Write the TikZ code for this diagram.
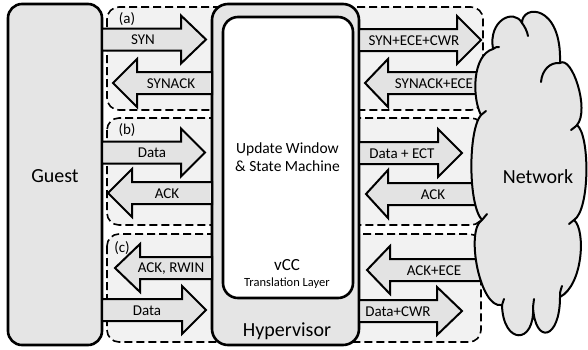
\documentclass[tikz,border=0pt]{standalone}
\usepackage{fontspec}
\setmainfont{Carlito}
\tikzset{
  box/.style={draw, line width=2.6pt, fill=gray!20, rounded corners=14pt, inner sep=0},
  inbox/.style={draw, line width=2.6pt, fill=white, rounded corners=15pt, inner sep=0},
  grp/.style={draw, dash pattern=on 8pt off 4pt, line width=1.6pt, fill=gray!10, rounded corners=12pt},
  arr/.style={draw, line width=2pt, fill=gray!22, line join=miter},
  lbl/.style={font=\fontsize{15}{18}\selectfont, inner sep=0},
  big/.style={font=\fontsize{20}{24}\selectfont, inner sep=0},
  cloudst/.style={draw, line width=2pt, fill=gray!20, line join=round},
  tick/.style={draw, line width=2pt, line cap=round},
}
% #1 tail x, #2 head base x, #3 tip x, #4 y, #5 label x, #6 name, #7 label
\newcommand{\blockarr}[7]{%
  \draw[arr] (#1,#4-11) -- (#2,#4-11) -- (#2,#4-24) -- (#3,#4) -- (#2,#4+24) -- (#2,#4+11) -- (#1,#4+11) -- cycle;
  \node[lbl] (#6) at (#5,#4+0.5) {#7};
}
\begin{document}
\begin{tikzpicture}[x=1pt,y=-1pt]
\useasboundingbox (0,0) rectangle (588,349);
% dashed groups
\draw[grp] (107,7) rectangle (483,110);
\draw[grp] (107,118) rectangle (483,225);
\draw[grp] (107,234) rectangle (481,342);
% guest
\node[box, minimum width=94pt, minimum height=341pt] (guest) at (55,174.5) {};
\node[big] (guestlbl) at (55,176) {Guest};
% hypervisor
\node[box, rounded corners=16pt, minimum width=147pt, minimum height=341pt] (hyp) at (285.5,174.5) {};
\node[inbox, minimum width=130pt, minimum height=281pt] (vcc) at (288,157.5) {};
\node[big] (hyplbl) at (287,331) {Hypervisor};
\node[font=\fontsize{15.5}{19}\selectfont, inner sep=0, align=center] (uw) at (287.5,157) {Update Window\\[-1pt]\& State Machine};
\node[font=\fontsize{17}{20}\selectfont, inner sep=0] (vcclbl) at (287,265) {vCC};
\node[font=\fontsize{12.5}{15}\selectfont, inner sep=0] (tl) at (287,283) {Translation Layer};
% group labels
\node[lbl] (la) at (127,19) {(a)};
\node[lbl] (lb) at (127,130) {(b)};
\node[lbl] (lc) at (122,248) {(c)};
% left arrows
\blockarr{102}{181}{206}{39.5}{143}{a1}{SYN}
\blockarr{212}{137}{113}{83}{171}{a2}{SYNACK}
\blockarr{102}{181}{205}{152.5}{152}{a3}{Data}
\blockarr{212}{132}{108}{193}{167}{a4}{ACK}
\blockarr{212}{140}{115}{268}{171}{a5}{ACK, RWIN}
\blockarr{102}{182}{206}{310}{147}{a6}{Data}
% right arrows
\blockarr{359}{457}{481}{40}{414}{a7}{SYN+ECE+CWR}
\blockarr{484}{388}{365}{83}{434}{a8}{SYNACK+ECE}
\blockarr{359}{438}{462}{153}{402}{a9}{Data + ECT}
\blockarr{482}{388}{366}{194}{433}{a10}{ACK}
\blockarr{484}{390}{367}{270}{434}{a11}{ACK+ECE}
\blockarr{359}{437}{462}{311}{398}{a12}{Data+CWR}
% cloud
\draw[cloudst] (493,49) .. controls (488,20) and (514,8) .. (522,23)
  .. controls (522,4) and (562,4) .. (560,63)
  .. controls (572,55) and (590,110) .. (577,125)
  .. controls (590,135) and (590,210) .. (574,220)
  .. controls (586,230) and (583,285) .. (560,297)
  .. controls (560,340) and (535,345) .. (533,307)
  .. controls (535,345) and (503,345) .. (502,305)
  .. controls (480,310) and (465,230) .. (482,220)
  .. controls (468,205) and (468,130) .. (481,115)
  .. controls (472,98) and (472,55) .. (493,49) -- cycle;
\draw[tick] (522,23) .. controls (525,27) and (527,31) .. (528,36);
\draw[tick] (560,63) .. controls (550,62) and (542,70) .. (541,82);
\draw[tick] (577,125) .. controls (575,127) .. (571,130);
\draw[tick] (574,220) .. controls (572,222) .. (569,224);
\draw[tick] (560,297) .. controls (560,292) .. (562,286);
\draw[tick] (533,307) .. controls (533,303) .. (534,299);
\draw[tick] (502,305) .. controls (503,302) .. (504,299);
\draw[tick] (482,220) .. controls (484,217) .. (487,214);
\draw[tick] (481,115) .. controls (483,113) .. (486,111);
\draw[tick] (493,49) .. controls (496,47) .. (499,47);
\node[big] (net) at (538,177) {Network};
\end{tikzpicture}
\end{document}
